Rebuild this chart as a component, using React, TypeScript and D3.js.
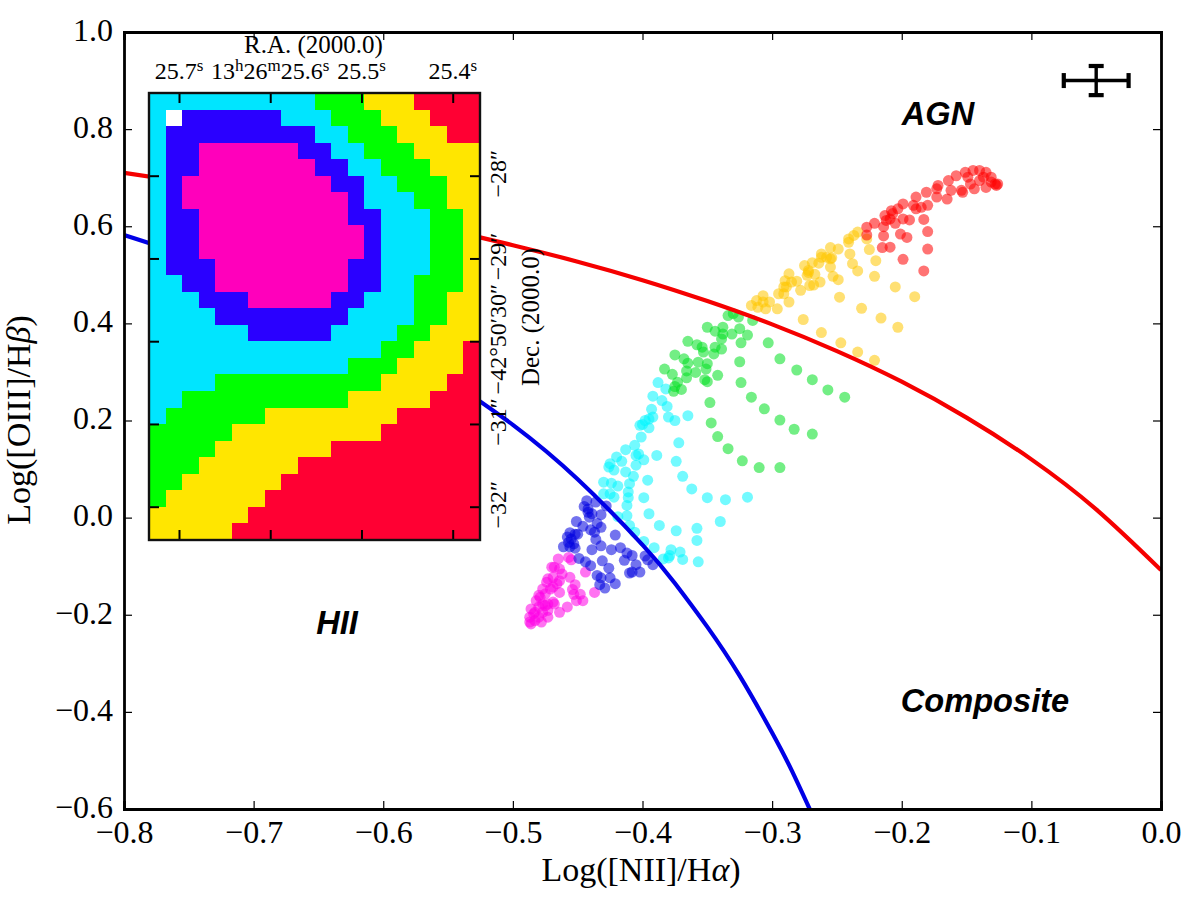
import { useEffect, useRef } from "react";
import * as d3 from "d3";

const W = 1200;
const H = 899;
const SERIF = "'Liberation Serif', serif";
const SANS = "'Liberation Sans', sans-serif";

const xTicks = [-0.8, -0.7, -0.6, -0.5, -0.4, -0.3, -0.2, -0.1, 0];
const yTicks = [-0.6, -0.4, -0.2, 0, 0.2, 0.4, 0.6, 0.8, 1];

// dividing lines
const kewleyLine: number[][] = [
  [-0.8, 0.71], [-0.75, 0.69], [-0.7, 0.669], [-0.65, 0.645], [-0.6, 0.62], [-0.55, 0.592], [-0.5, 0.561],
  [-0.45, 0.527], [-0.4, 0.489], [-0.35, 0.446], [-0.3, 0.398], [-0.25, 0.343], [-0.2, 0.28], [-0.15, 0.206],
  [-0.1, 0.12], [-0.05, 0.017], [0, -0.108],
];
const kauffmannLine: number[][] = [
  [-0.8, 0.582], [-0.75, 0.538], [-0.7, 0.487], [-0.65, 0.429], [-0.6, 0.362], [-0.55, 0.283], [-0.5, 0.191],
  [-0.45, 0.079], [-0.4, -0.056], [-0.375, -0.135], [-0.35, -0.225], [-0.325, -0.326], [-0.3, -0.443], [-0.285, -0.52], [-0.27, -0.606],
];

const magentaPts: number[][] = [
  [-0.486, -0.219], [-0.483, -0.212], [-0.48, -0.205], [-0.478, -0.215], [-0.484, -0.198], [-0.486, -0.188],
  [-0.48, -0.184], [-0.483, -0.195], [-0.477, -0.195], [-0.473, -0.205], [-0.468, -0.178], [-0.469, -0.174],
  [-0.473, -0.178], [-0.475, -0.181], [-0.479, -0.164], [-0.48, -0.16], [-0.477, -0.147], [-0.474, -0.133],
  [-0.473, -0.126], [-0.469, -0.123], [-0.466, -0.136], [-0.464, -0.13], [-0.47, -0.102], [-0.468, -0.102],
  [-0.465, -0.085], [-0.464, -0.106], [-0.462, -0.116], [-0.456, -0.123], [-0.452, -0.138], [-0.454, -0.148],
  [-0.453, -0.158], [-0.448, -0.158], [-0.446, -0.171], [-0.451, -0.171], [-0.458, -0.184], [-0.464, -0.195],
  [-0.437, -0.154], [-0.444, -0.112], [-0.455, -0.087], [-0.457, -0.082], [-0.469, -0.143], [-0.471, -0.147],
  [-0.475, -0.157], [-0.482, -0.171], [-0.487, -0.205], [-0.477, -0.178], [-0.464, -0.154], [-0.473, -0.191],
  [-0.487, -0.215],
];
const bluePts: number[][] = [
  [-0.443, 0.035], [-0.445, 0.023], [-0.436, 0.032], [-0.442, 0.018], [-0.442, 0.011], [-0.439, 0.008],
  [-0.441, 0.001], [-0.432, 0.006], [-0.428, 0.024], [-0.451, -0.008], [-0.446, -0.018], [-0.435, -0.012],
  [-0.432, -0.02], [-0.44, -0.025], [-0.437, -0.03], [-0.45, -0.034], [-0.452, -0.034], [-0.456, -0.031],
  [-0.458, -0.04], [-0.455, -0.044], [-0.457, -0.051], [-0.453, -0.054], [-0.461, -0.06], [-0.456, -0.06],
  [-0.452, -0.063], [-0.436, -0.045], [-0.432, -0.058], [-0.439, -0.066], [-0.424, -0.066], [-0.417, -0.062],
  [-0.421, -0.036], [-0.412, -0.073], [-0.408, -0.078], [-0.414, -0.088], [-0.431, -0.089], [-0.449, -0.084],
  [-0.444, -0.091], [-0.44, -0.099], [-0.426, -0.104], [-0.405, -0.097], [-0.398, -0.079], [-0.396, -0.087],
  [-0.392, -0.097], [-0.402, -0.112], [-0.41, -0.114], [-0.408, -0.112], [-0.435, -0.119], [-0.432, -0.124],
  [-0.425, -0.124], [-0.421, -0.136], [-0.433, -0.138], [-0.429, -0.145],
];
const cyanPts: number[][] = [
  [-0.388, 0.278], [-0.382, 0.265], [-0.392, 0.25], [-0.385, 0.241], [-0.381, 0.229], [-0.393, 0.223],
  [-0.392, 0.207], [-0.38, 0.207], [-0.375, 0.2], [-0.365, 0.21], [-0.398, 0.2], [-0.402, 0.19],
  [-0.395, 0.185], [-0.401, 0.166], [-0.406, 0.149], [-0.413, 0.14], [-0.372, 0.154], [-0.389, 0.128],
  [-0.405, 0.128], [-0.403, 0.131], [-0.42, 0.125], [-0.416, 0.116], [-0.425, 0.111], [-0.422, 0.098],
  [-0.405, 0.108], [-0.399, 0.119], [-0.374, 0.116], [-0.413, 0.094], [-0.407, 0.085], [-0.369, 0.085],
  [-0.43, 0.073], [-0.424, 0.071], [-0.419, 0.065], [-0.396, 0.077], [-0.41, 0.07], [-0.411, 0.053],
  [-0.362, 0.059], [-0.425, 0.049], [-0.422, 0.042], [-0.399, 0.041], [-0.35, 0.041], [-0.336, 0.037],
  [-0.319, 0.042], [-0.411, 0.041], [-0.4, 0.192], [-0.395, 0.203], [-0.426, 0.104], [-0.43, 0.049],
  [-0.412, 0.025], [-0.412, 0.004], [-0.419, 0.002], [-0.395, 0.008], [-0.41, -0.016], [-0.34, -0.008],
  [-0.387, -0.016], [-0.374, -0.027], [-0.358, -0.022], [-0.358, -0.047], [-0.399, -0.049], [-0.391, -0.062],
  [-0.378, -0.066], [-0.371, -0.071], [-0.379, -0.078], [-0.384, -0.085], [-0.38, -0.083], [-0.369, -0.086],
  [-0.357, -0.091], [-0.406, -0.03],
];
const greenPts: number[][] = [
  [-0.33, 0.42], [-0.334, 0.416], [-0.326, 0.413], [-0.315, 0.406], [-0.35, 0.392], [-0.344, 0.384],
  [-0.338, 0.392], [-0.325, 0.389], [-0.331, 0.378], [-0.319, 0.376], [-0.338, 0.378], [-0.339, 0.368],
  [-0.365, 0.363], [-0.358, 0.356], [-0.354, 0.351], [-0.303, 0.36], [-0.324, 0.36], [-0.344, 0.351],
  [-0.339, 0.347], [-0.353, 0.341], [-0.345, 0.337], [-0.375, 0.335], [-0.368, 0.327], [-0.365, 0.318],
  [-0.357, 0.32], [-0.35, 0.317], [-0.325, 0.321], [-0.294, 0.327], [-0.383, 0.306], [-0.377, 0.295],
  [-0.366, 0.302], [-0.359, 0.299], [-0.351, 0.306], [-0.281, 0.304], [-0.342, 0.293], [-0.366, 0.288],
  [-0.352, 0.284], [-0.35, 0.28], [-0.324, 0.278], [-0.269, 0.284], [-0.373, 0.279], [-0.375, 0.27],
  [-0.37, 0.264], [-0.376, 0.26], [-0.257, 0.263], [-0.316, 0.248], [-0.244, 0.248], [-0.348, 0.237],
  [-0.306, 0.224], [-0.294, 0.201], [-0.347, 0.195], [-0.283, 0.182], [-0.269, 0.172], [-0.342, 0.167],
  [-0.334, 0.142], [-0.323, 0.117], [-0.31, 0.103], [-0.294, 0.103],
];
const yellowPts: number[][] = [
  [-0.316, 0.437], [-0.312, 0.447], [-0.307, 0.457], [-0.307, 0.444], [-0.302, 0.444], [-0.305, 0.43],
  [-0.311, 0.433], [-0.296, 0.43], [-0.287, 0.444], [-0.295, 0.461], [-0.291, 0.461], [-0.289, 0.475],
  [-0.29, 0.488], [-0.287, 0.502], [-0.285, 0.485], [-0.281, 0.487], [-0.278, 0.468], [-0.271, 0.478],
  [-0.268, 0.479], [-0.263, 0.485], [-0.275, 0.519], [-0.269, 0.525], [-0.272, 0.509], [-0.273, 0.499],
  [-0.267, 0.501], [-0.264, 0.524], [-0.262, 0.543], [-0.258, 0.536], [-0.255, 0.516], [-0.254, 0.535],
  [-0.253, 0.497], [-0.249, 0.49], [-0.255, 0.556], [-0.249, 0.553], [-0.241, 0.567], [-0.24, 0.543],
  [-0.238, 0.523], [-0.234, 0.508], [-0.221, 0.497], [-0.22, 0.529], [-0.225, 0.552], [-0.227, 0.574],
  [-0.234, 0.588], [-0.237, 0.581], [-0.205, 0.475], [-0.19, 0.455], [-0.248, 0.454], [-0.231, 0.431],
  [-0.216, 0.411], [-0.203, 0.392], [-0.276, 0.408], [-0.262, 0.381], [-0.247, 0.36], [-0.234, 0.341],
  [-0.221, 0.324], [-0.262, 0.536], [-0.291, 0.475], [-0.272, 0.505], [-0.241, 0.574], [-0.255, 0.533],
];
const redPts: number[][] = [
  [-0.227, 0.598], [-0.227, 0.582], [-0.221, 0.606], [-0.214, 0.599], [-0.213, 0.622], [-0.208, 0.632],
  [-0.209, 0.615], [-0.205, 0.606], [-0.199, 0.646], [-0.203, 0.636], [-0.199, 0.615], [-0.194, 0.613],
  [-0.191, 0.643], [-0.189, 0.66], [-0.185, 0.639], [-0.18, 0.643], [-0.181, 0.67], [-0.183, 0.614],
  [-0.18, 0.589], [-0.214, 0.58], [-0.201, 0.584], [-0.196, 0.577], [-0.215, 0.556], [-0.209, 0.557],
  [-0.18, 0.553], [-0.199, 0.532], [-0.183, 0.508], [-0.172, 0.684], [-0.173, 0.66], [-0.165, 0.656],
  [-0.164, 0.694], [-0.162, 0.674], [-0.158, 0.704], [-0.153, 0.67], [-0.151, 0.711], [-0.149, 0.701],
  [-0.144, 0.677], [-0.145, 0.715], [-0.14, 0.715], [-0.137, 0.701], [-0.135, 0.711], [-0.131, 0.701],
  [-0.135, 0.68], [-0.128, 0.687], [-0.126, 0.687], [-0.14, 0.694], [-0.147, 0.687], [-0.154, 0.674],
  [-0.212, 0.612], [-0.207, 0.626], [-0.189, 0.636], [-0.173, 0.677], [-0.131, 0.691], [-0.127, 0.684],
];

const pointGroups: { pts: number[][]; color: string }[] = [
  { pts: magentaPts, color: "#ff00e6" },
  { pts: bluePts, color: "#0000e0" },
  { pts: cyanPts, color: "#00f5ff" },
  { pts: greenPts, color: "#00e020" },
  { pts: yellowPts, color: "#ffc600" },
  { pts: redPts, color: "#ff0000" },
];

// error bar in the top right corner
const errCentre = [-0.05, 0.9];
const errSize = [0.025, 0.03];

// flux map of the inset, one string per row, one letter per pixel
const mapRows = [
  "CCCCCCCCCCGGGYYYRRRR",
  "CWBBBBBBCCCGGGYYYRRR",
  "CBBBBBBBBBCCGGGYYYRR",
  "CBBMMMMMMBBCCGGGYYYY",
  "CBBMMMMMMMBBCCGGGYYY",
  "CBMMMMMMMMMBBCCGGGYY",
  "CBMMMMMMMMMMBCCCGGYY",
  "CBBMMMMMMMMMBBCCCGGY",
  "CBBMMMMMMMMMMBCCCGGY",
  "CBBMMMMMMMMMMBCCCGGY",
  "CBBBMMMMMMMMBBCCCGGY",
  "CCBBMMMMMMMMBBCCGGGY",
  "CCCBBBMMMMMBBCCCGGYY",
  "CCCCBBBBBBBBCCCCGGYY",
  "CCCCCCBBBBBCCCCGGYYY",
  "CCCCCCCCCCCCCCGGYYYR",
  "CCCCCCCCCCCCGGGYYYYR",
  "CCCCGGGGGGGGGGYYYYRR",
  "CCGGGGGGGGGGYYYYYRRR",
  "CGGGGGGYYYYYYYYRRRRR",
  "GGGGGYYYYYYYYYRRRRRR",
  "GGGGYYYYYYYRRRRRRRRR",
  "GGGYYYYYYRRRRRRRRRRR",
  "GGYYYYYYRRRRRRRRRRRR",
  "GYYYYYYRRRRRRRRRRRRR",
  "YYYYYYRRRRRRRRRRRRRR",
  "YYYYYRRRRRRRRRRRRRRR",
];
const mapColors: Record<string, string> = {
  W: "#ffffff",
  M: "#ff00bb",
  B: "#2a00ff",
  C: "#00e5ff",
  G: "#00ff00",
  Y: "#ffe600",
  R: "#ff0033",
};
const raTicks = [25.7, 25.6, 25.5, 25.4];
const raLabels: [string, boolean][][] = [
  [["25.7", false], ["s", true]],
  [["13", false], ["h", true], ["26", false], ["m", true], ["25.6", false], ["s", true]],
  [["25.5", false], ["s", true]],
  [["25.4", false], ["s", true]],
];
const decTicks = [-28, -29, -30, -31, -32];
const decLabels = ["\u221228\u2033", "\u221229\u2033", "\u221242\u00b050\u203230\u2033", "\u221231\u2033", "\u221232\u2033"];

const App = () => {
  const svgRef = useRef<SVGSVGElement | null>(null);

  useEffect(() => {
    const svg = d3.select(svgRef.current);
    svg.selectAll("*").remove();

    const left = 124, right = 1161, top = 32, bottom = 809;
    const x = d3.scaleLinear().domain([-0.8, 0]).range([left, right]);
    const y = d3.scaleLinear().domain([-0.6, 1]).range([bottom, top]);

    const line = d3.line<number[]>()
      .x((d) => x(d[0]))
      .y((d) => y(d[1]))
      .curve(d3.curveNatural);

    svg.append("defs").append("clipPath").attr("id", "plot")
      .append("rect").attr("x", left).attr("y", top).attr("width", right - left).attr("height", bottom - top);

    const plot = svg.append("g").attr("clip-path", "url(#plot)");
    pointGroups.forEach((g) => {
      plot.append("g").selectAll("circle").data(g.pts).join("circle")
        .attr("cx", (d) => x(d[0]))
        .attr("cy", (d) => y(d[1]))
        .attr("r", 5.5)
        .attr("fill", g.color)
        .attr("fill-opacity", 0.55);
    });
    plot.append("path").attr("d", line(kewleyLine)).attr("fill", "none").attr("stroke", "#f50000").attr("stroke-width", 4.2);
    plot.append("path").attr("d", line(kauffmannLine)).attr("fill", "none").attr("stroke", "#0000e6").attr("stroke-width", 4.2);

    // error bar
    const err = svg.append("g").attr("stroke", "#000").attr("fill", "none");
    const ex = x(errCentre[0]), ey = y(errCentre[1]);
    const ex0 = x(errCentre[0] - errSize[0]), ex1 = x(errCentre[0] + errSize[0]);
    const ey0 = y(errCentre[1] - errSize[1]), ey1 = y(errCentre[1] + errSize[1]);
    err.append("line").attr("x1", ex0).attr("x2", ex1).attr("y1", ey).attr("y2", ey).attr("stroke-width", 3.4);
    err.append("line").attr("x1", ex).attr("x2", ex).attr("y1", ey0).attr("y2", ey1).attr("stroke-width", 3.4);
    [ex0, ex1].forEach((v) => err.append("line").attr("x1", v).attr("x2", v).attr("y1", ey - 7.5).attr("y2", ey + 7.5).attr("stroke-width", 4.2));
    [ey0, ey1].forEach((v) => err.append("line").attr("x1", ex - 7.5).attr("x2", ex + 7.5).attr("y1", v).attr("y2", v).attr("stroke-width", 4.2));

    // main axes
    const fmt = d3.format(".1f");
    const styleAxis = (g: any) => {
      g.select(".domain").attr("stroke", "#000").attr("stroke-width", 2.8);
      g.selectAll(".tick line").attr("stroke", "#000").attr("stroke-width", 1.2);
      g.selectAll("text").attr("font-family", SERIF).attr("font-size", 32).attr("fill", "#000");
    };
    styleAxis(svg.append("g").attr("transform", `translate(0,${bottom})`)
      .call(d3.axisBottom(x).tickValues(xTicks).tickFormat((d) => fmt(+d)).tickSize(-8).tickPadding(11) as any));
    const leftAxis = svg.append("g").attr("transform", `translate(${left},0)`)
      .call(d3.axisLeft(y).tickValues(yTicks).tickFormat((d) => fmt(+d)).tickSize(-8).tickPadding(11) as any);
    styleAxis(leftAxis);
    leftAxis.selectAll("text").attr("dy", "0.26em");
    styleAxis(svg.append("g").attr("transform", `translate(0,${top})`)
      .call(d3.axisTop(x).tickValues(xTicks).tickFormat(() => "").tickSize(-8) as any));
    styleAxis(svg.append("g").attr("transform", `translate(${right},0)`)
      .call(d3.axisRight(y).tickValues(yTicks).tickFormat(() => "").tickSize(-8) as any));

    // axis titles
    const xTitle = svg.append("text").attr("x", 641).attr("y", 881).attr("text-anchor", "middle")
      .attr("font-family", SERIF).attr("font-size", 34).attr("fill", "#000");
    xTitle.append("tspan").text("Log([NII]/H");
    xTitle.append("tspan").attr("font-style", "italic").text("\u03b1");
    xTitle.append("tspan").text(")");
    const yTitle = svg.append("text").attr("transform", "translate(30,420) rotate(-90)").attr("text-anchor", "middle")
      .attr("font-family", SERIF).attr("font-size", 34).attr("fill", "#000");
    yTitle.append("tspan").text("Log([OIII]/H");
    yTitle.append("tspan").attr("font-style", "italic").text("\u03b2");
    yTitle.append("tspan").text(")");

    // region names
    const regions: [string, number, number][] = [["AGN", 938, 125], ["HII", 337, 634], ["Composite", 985, 712]];
    regions.forEach(([t, px, py]) => {
      svg.append("text").attr("x", px).attr("y", py).attr("text-anchor", "middle")
        .attr("font-family", SANS).attr("font-size", 32.6).attr("font-weight", "bold").attr("font-style", "italic")
        .attr("fill", "#000").text(t);
    });

    // inset map
    const inL = 149, inR = 480, inT = 93, inB = 540;
    const col = d3.scaleBand<number>().domain(d3.range(mapRows[0].length)).range([inL, inR]);
    const row = d3.scaleBand<number>().domain(d3.range(mapRows.length)).range([inT, inB]);
    const inset = svg.append("g");
    inset.append("rect").attr("x", inL).attr("y", inT).attr("width", inR - inL).attr("height", inB - inT).attr("fill", "#fff");
    mapRows.forEach((r, i) => {
      inset.append("g").selectAll("rect").data(r.split("")).join("rect")
        .attr("x", (_, j) => col(j)!)
        .attr("y", row(i)!)
        .attr("width", col.bandwidth())
        .attr("height", row.bandwidth())
        .attr("shape-rendering", "crispEdges")
        .attr("fill", (d) => mapColors[d]);
    });

    const ra = d3.scaleLinear().domain([25.7, 25.4]).range([179, 452.7]);
    const dec = d3.scaleLinear().domain([-28, -32]).range([175.7, 506.7]);
    const styleInset = (g: any) => {
      g.select(".domain").remove();
      g.selectAll(".tick line").attr("stroke", "#000").attr("stroke-width", 2);
    };
    styleInset(inset.append("g").attr("transform", `translate(0,${inB})`)
      .call(d3.axisBottom(ra).tickValues(raTicks).tickFormat(() => "").tickSize(-10) as any));
    styleInset(inset.append("g").attr("transform", `translate(0,${inT})`)
      .call(d3.axisTop(ra).tickValues(raTicks).tickFormat(() => "").tickSize(-10) as any));
    styleInset(inset.append("g").attr("transform", `translate(${inL},0)`)
      .call(d3.axisLeft(dec).tickValues(decTicks).tickFormat(() => "").tickSize(-10) as any));
    styleInset(inset.append("g").attr("transform", `translate(${inR},0)`)
      .call(d3.axisRight(dec).tickValues(decTicks).tickFormat(() => "").tickSize(-10) as any));
    inset.append("rect").attr("x", inL).attr("y", inT).attr("width", inR - inL).attr("height", inB - inT)
      .attr("fill", "none").attr("stroke", "#111").attr("stroke-width", 2.4);

    raTicks.forEach((v, i) => {
      const t = inset.append("text").attr("x", ra(v)).attr("y", 79).attr("text-anchor", "middle")
        .attr("font-family", SERIF).attr("font-size", 24).attr("fill", "#000");
      let raised = false;
      raLabels[i].forEach(([s, sup]) => {
        const span = t.append("tspan").text(s);
        if (sup) span.attr("font-size", 17).attr("dy", -8);
        else if (raised) span.attr("dy", 8);
        raised = sup;
      });
    });
    decTicks.forEach((v, i) => {
      inset.append("text").attr("transform", `translate(505.5,${dec(v) - 2}) rotate(-90)`).attr("text-anchor", "middle")
        .attr("font-family", SERIF).attr("font-size", 24).attr("fill", "#000").text(decLabels[i]);
    });
    inset.append("text").attr("x", 313.5).attr("y", 53).attr("text-anchor", "middle")
      .attr("font-family", SERIF).attr("font-size", 25).attr("fill", "#000").text("R.A. (2000.0)");
    inset.append("text").attr("transform", "translate(539,317) rotate(-90)").attr("text-anchor", "middle")
      .attr("font-family", SERIF).attr("font-size", 25).attr("fill", "#000").text("Dec. (2000.0)");
  }, []);

  return <svg ref={svgRef} width={W} height={H} style={{ position: "absolute", left: 0, top: 0, background: "#fff" }} />;
};

export default App;
